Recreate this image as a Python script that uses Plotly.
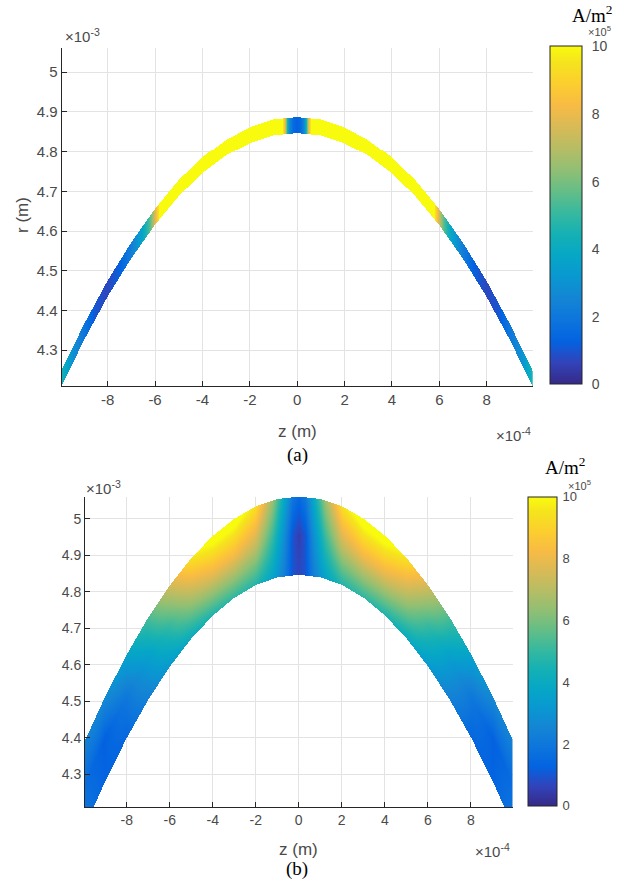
import numpy as np
import plotly.graph_objects as go

W, H = 619, 880

# ---------------- panel (a): thin conducting arc ----------------
# band edges: z in units of 1e-4 m, r in units of 1e-3 m
za_edge = [-9.94, -9, -8, -7, -6, -5, -4, -3, -2, -1, 0, 1, 2, 3, 4, 5, 6, 7, 8, 9, 9.94]
ra_outer = [4.250, 4.365, 4.475, 4.571, 4.655, 4.727, 4.785, 4.830, 4.862, 4.882, 4.888,
            4.882, 4.862, 4.830, 4.785, 4.727, 4.655, 4.571, 4.475, 4.365, 4.250]
ra_inner = [4.210, 4.325, 4.435, 4.531, 4.615, 4.687, 4.745, 4.790, 4.822, 4.842, 4.848,
            4.842, 4.822, 4.790, 4.745, 4.687, 4.615, 4.531, 4.435, 4.325, 4.210]
# current density along the arc (units of 1e5 A/m^2)
za_j = [-9.94, -9.5, -9.0, -8.5, -8.0, -7.5, -7.0, -6.5, -6.2, -6.0, -5.8, -0.6, -0.5, -0.4, -0.3, -0.15,
        0.0, 0.15, 0.3, 0.4, 0.5, 0.6, 5.8, 6.0, 6.2, 6.5, 7.0, 7.5, 8.0, 8.5, 9.0, 9.5, 9.94]
ja = [4.5, 3.0, 2.0, 1.0, 0.7, 1.2, 2.2, 3.8, 5.5, 7.5, 10.0, 10.0, 8.0, 4.5, 2.5, 1.5,
      1.2, 1.5, 2.5, 4.5, 8.0, 10.0, 10.0, 7.5, 5.5, 3.8, 2.2, 1.2, 0.7, 1.0, 2.0, 3.0, 4.5]

# ---------------- panel (b): thick conducting arc ----------------
zb_edge = [-9.94, -9, -8, -7, -6, -5, -4, -3, -2, -1, 0, 1, 2, 3, 4, 5, 6, 7, 8, 9, 9.94]
rb_outer = [4.390, 4.511, 4.626, 4.728, 4.816, 4.891, 4.952, 4.999, 5.033, 5.053, 5.060,
            5.053, 5.033, 4.999, 4.952, 4.891, 4.816, 4.728, 4.626, 4.511, 4.390]
rb_inner = [4.154, 4.279, 4.398, 4.503, 4.594, 4.671, 4.734, 4.783, 4.818, 4.839, 4.846,
            4.839, 4.818, 4.783, 4.734, 4.671, 4.594, 4.503, 4.398, 4.279, 4.154]
zb_j = [-9.94, -9, -8, -7, -6, -5, -4, -3, -2, -1.2, -0.7, -0.3, 0.0,
        0.3, 0.7, 1.2, 2, 3, 4, 5, 6, 7, 8, 9, 9.94]
jb_inner = [2.0, 1.3, 1.4, 2.3, 3.2, 4.0, 4.6, 4.9, 4.7, 3.6, 2.3, 1.0, 0.7,
            1.0, 2.3, 3.6, 4.7, 4.9, 4.6, 4.0, 3.2, 2.3, 1.4, 1.3, 2.0]
jb_mid = [1.6, 1.2, 2.0, 3.4, 5.0, 6.8, 7.8, 8.0, 7.2, 4.9, 2.9, 1.0, 0.5,
          1.0, 2.9, 4.9, 7.2, 8.0, 7.8, 6.8, 5.0, 3.4, 2.0, 1.2, 1.6]
jb_outer = [2.4, 2.7, 3.6, 5.3, 7.5, 9.5, 10.5, 10.5, 9.4, 6.4, 3.9, 2.0, 1.5,
            2.0, 3.9, 6.4, 9.4, 10.5, 10.5, 9.5, 7.5, 5.3, 3.6, 2.7, 2.4]

# axis limits and ticks
z_lim = [-9.94, 9.94]
r_lim = [4.21, 5.06]
z_ticks = [-8, -6, -4, -2, 0, 2, 4, 6, 8]
z_ticktext = ["-8", "-6", "-4", "-2", "0", "2", "4", "6", "8"]
r_ticks = [4.3, 4.4, 4.5, 4.6, 4.7, 4.8, 4.9, 5.0]
r_ticktext = ["4.3", "4.4", "4.5", "4.6", "4.7", "4.8", "4.9", "5"]
cbar_ticks = [0, 2, 4, 6, 8, 10]

# parula colormap
_parula = [
    (53, 42, 135), (50, 67, 186), (3, 99, 225), (13, 117, 220), (20, 133, 212),
    (9, 152, 209), (6, 167, 198), (21, 177, 180), (56, 185, 158), (101, 190, 134),
    (146, 191, 115), (183, 189, 100), (217, 186, 86), (248, 187, 68), (252, 206, 46),
    (245, 228, 29), (249, 251, 14)]
_pos = [0, 4, 8, 12, 16, 20, 24, 28, 32, 36, 40, 44, 48, 52, 56, 60, 63]
parula = [[p / 63, "rgb(%d,%d,%d)" % c] for p, c in zip(_pos, _parula)]


def band_field(zc, rc, z_edge, r_out, r_in, z_j, profiles):
    """Fill a z-r raster with the current density inside the band, NaN elsewhere.
    profiles: list of (fraction across band from inner edge, values along z_j)."""
    ro = np.interp(zc, z_edge, r_out)[None, :]
    ri = np.interp(zc, z_edge, r_in)[None, :]
    R = np.asarray(rc)[:, None]
    s = (R - ri) / (ro - ri)
    fr = [p[0] for p in profiles]
    vals = [np.interp(zc, z_j, p[1])[None, :] for p in profiles]
    if len(vals) == 1:
        J = np.broadcast_to(vals[0], s.shape).copy()
    else:
        J = np.zeros(s.shape)
        sc = np.clip(s, 0, 1)
        for k in range(len(fr) - 1):
            t = (sc - fr[k]) / (fr[k + 1] - fr[k])
            m = (sc >= fr[k]) & (sc <= fr[k + 1])
            J = np.where(m, vals[k] + (vals[k + 1] - vals[k]) * t, J)
    J[(s < 0) | (s > 1)] = np.nan
    return J


# raster grids (about one cell per screen pixel)
za_c = np.linspace(z_lim[0], z_lim[1], 472)
ra_c = np.linspace(r_lim[0], r_lim[1], 340)
Ja = band_field(za_c, ra_c, za_edge, ra_outer, ra_inner, za_j, [(0.0, ja)])

zb_c = np.linspace(z_lim[0], z_lim[1], 430)
rb_c = np.linspace(r_lim[0], r_lim[1], 312)
Jb = band_field(zb_c, rb_c, zb_edge, rb_outer, rb_inner, zb_j,
                [(0.0, jb_inner), (0.5, jb_mid), (1.0, jb_outer)])


def px(x):
    return x / W


def py(y):
    return 1 - y / H


AX = "#262626"
TXT = "#4a4a4a"
GRID = "#e3e3e3"
SANS = "Liberation Sans, Arial, sans-serif"
SERIF = "Liberation Serif, Times New Roman, serif"

fig = go.Figure()

fig.add_trace(go.Heatmap(
    x=za_c, y=ra_c, z=Ja.astype(np.float32), xaxis="x", yaxis="y",
    colorscale=parula, zmin=0, zmax=10, hoverinfo="skip",
    colorbar=dict(x=px(550), xanchor="left", xpad=0, ypad=0,
                  y=py(215.4), yanchor="middle", len=337.5, lenmode="pixels",
                  thickness=32, thicknessmode="pixels",
                  outlinewidth=1, outlinecolor=AX,
                  tickvals=cbar_ticks, ticks="outside", ticklen=7,
                  tickcolor="rgba(0,0,0,0)",
                  tickfont=dict(family=SANS, size=14, color=TXT))))

fig.add_trace(go.Heatmap(
    x=zb_c, y=rb_c, z=Jb.astype(np.float32), xaxis="x2", yaxis="y2",
    colorscale=parula, zmin=0, zmax=10, hoverinfo="skip",
    colorbar=dict(x=px(528), xanchor="left", xpad=0, ypad=0,
                  y=py(651.4), yanchor="middle", len=309, lenmode="pixels",
                  thickness=29, thicknessmode="pixels",
                  outlinewidth=1, outlinecolor=AX,
                  tickvals=cbar_ticks, ticks="outside", ticklen=3,
                  tickcolor="rgba(0,0,0,0)",
                  tickfont=dict(family=SANS, size=13, color=TXT))))


def xax(domain, anchor, size):
    return dict(domain=domain, anchor=anchor, range=z_lim, tickvals=z_ticks,
                ticktext=z_ticktext,
                ticks="inside", ticklen=5, tickcolor=AX, showline=True, linecolor=AX,
                linewidth=1, mirror=False, showgrid=True, gridcolor=GRID, gridwidth=1,
                zeroline=False, tickfont=dict(family=SANS, size=size, color=TXT))


def yax(domain, anchor, size):
    return dict(domain=domain, anchor=anchor, range=r_lim, tickvals=r_ticks,
                ticktext=r_ticktext, ticks="inside", ticklen=5, tickcolor=AX,
                showline=True, linecolor=AX, linewidth=1, mirror=False, showgrid=True,
                gridcolor=GRID, gridwidth=1, zeroline=False,
                tickfont=dict(family=SANS, size=size, color=TXT))


ann = []


def note(text, x, y, size, family=SANS, color=TXT, xanchor="center", angle=0):
    ann.append(dict(text=text, x=px(x), y=py(y), xref="paper", yref="paper",
                    xanchor=xanchor, yanchor="middle", showarrow=False, textangle=angle,
                    font=dict(family=family, size=size, color=color)))


# panel (a) labels
note("r (m)", 22, 215, 17, angle=-90)
note("z (m)", 297, 431, 17)
note("×10<sup>-4</sup>", 533, 434, 15, xanchor="right")
note("×10<sup>-3</sup>", 63, 36, 15, xanchor="left")
note("(a)", 297, 455, 19, family=SERIF, color="black")
note("A/m<sup>2</sup>", 592, 14, 19, family=SERIF, color="black")
note("×10<sup>5</sup>", 586, 31, 11, xanchor="left")

# panel (b) labels
note("z (m)", 298, 849, 17)
note("×10<sup>-4</sup>", 512, 850, 15, xanchor="right")
note("×10<sup>-3</sup>", 84, 487, 15, xanchor="left")
note("(b)", 297, 869, 19, family=SERIF, color="black")
note("A/m<sup>2</sup>", 565, 466, 19, family=SERIF, color="black")
note("×10<sup>5</sup>", 566, 485, 11, xanchor="left")

fig.update_layout(
    width=W, height=H, margin=dict(l=0, r=0, t=0, b=0),
    paper_bgcolor="white", plot_bgcolor="white", showlegend=False,
    xaxis=xax([px(61.7), px(532.7)], "y", 15),
    yaxis=yax([py(386), py(48.3)], "x", 15),
    xaxis2=xax([px(85), px(512.5)], "y2", 14),
    yaxis2=yax([py(807), py(497)], "x2", 14),
    annotations=ann,
)

fig.write_html("out.html")
